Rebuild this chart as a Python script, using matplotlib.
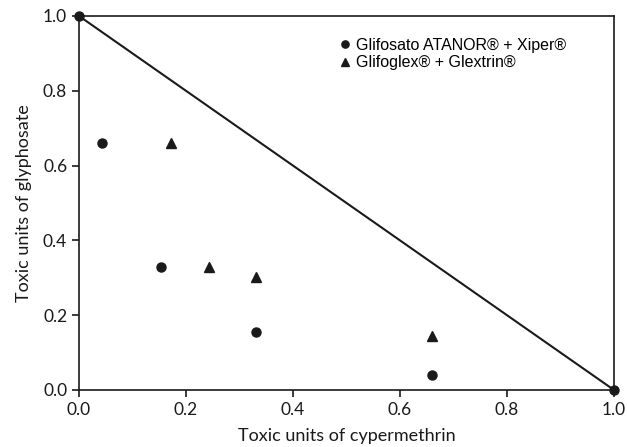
import matplotlib
matplotlib.use("Agg")
import matplotlib.pyplot as plt

# data
circ_x = [0.0, 0.043, 0.153, 0.331, 0.66, 1.0]
circ_y = [1.0, 0.66, 0.33, 0.155, 0.04, 0.0]
tri_x = [0.172, 0.243, 0.331, 0.66]
tri_y = [0.66, 0.33, 0.302, 0.145]
line_x = [0.0, 1.0]
line_y = [1.0, 0.0]
ticks = [0.0, 0.2, 0.4, 0.6, 0.8, 1.0]

plt.rcParams['font.family'] = ['Lato', 'DejaVu Sans']

fig = plt.figure(figsize=(6.27, 4.47), dpi=100)
ax = fig.add_axes([79/627, 57/447, 535/627, 374/447])

ax.plot(line_x, line_y, color='#1a1a1a', lw=1.5, zorder=2)
ax.plot(circ_x, circ_y, 'o', color='#1a1a1a', ms=6.5, ls='none', clip_on=False, zorder=3,
        label='Glifosato ATANOR® + Xiper®')
ax.plot(tri_x, tri_y, '^', color='#1a1a1a', ms=6.5, ls='none', zorder=3,
        label='Glifoglex® + Glextrin®')

ax.set_xlim(0, 1)
ax.set_ylim(0, 1)
ax.set_xticks(ticks)
ax.set_yticks(ticks)
ax.set_xticklabels([f"{t:.1f}" for t in ticks], fontsize=12.5)
ax.set_yticklabels([f"{t:.1f}" for t in ticks], fontsize=12.5)
ax.tick_params(direction='out', length=5, width=1.2, color='#1a1a1a', labelcolor='#1a1a1a')
for s in ax.spines.values():
    s.set_linewidth(1.2)
    s.set_color('#1a1a1a')

ax.set_xlabel('Toxic units of cypermethrin', fontsize=13, color='#1a1a1a', labelpad=7)
ax.set_ylabel('Toxic units of glyphosate', fontsize=13, color='#1a1a1a', labelpad=8)

leg = ax.legend(loc='upper left', bbox_to_anchor=(0.455, 0.98), frameon=False,
                prop={'family': 'Liberation Sans', 'size': 11.5},
                handletextpad=0.2, labelspacing=0.15, handlelength=1.0,
                markerscale=0.8)

fig.savefig('out.png', dpi=100)
